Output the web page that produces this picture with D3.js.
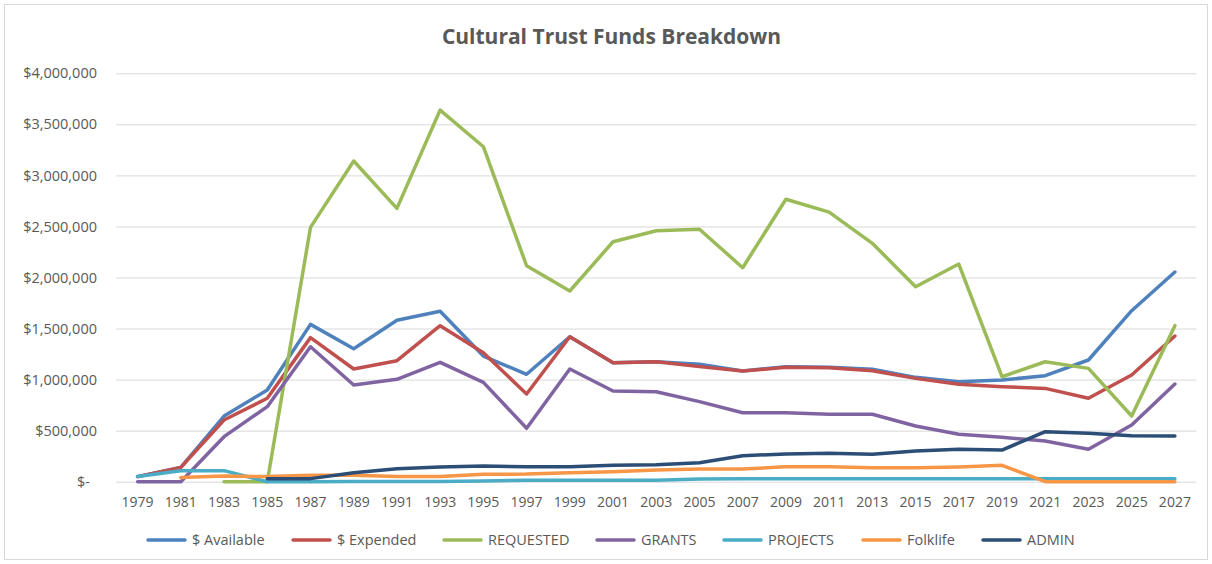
<!DOCTYPE html>
<html><head><meta charset="utf-8">
<script src="https://cdn.jsdelivr.net/npm/d3@7"></script>
<style>
html,body{margin:0;padding:0;background:#fff;}
svg{display:block;font-family:"Open Sans",sans-serif;}
</style></head>
<body><svg id="chart" width="1212" height="564"></svg>
<script>
const years = [1979,1981,1983,1985,1987,1989,1991,1993,1995,1997,1999,2001,2003,2005,2007,2009,2011,2013,2015,2017,2019,2021,2023,2025,2027];
const available = [50000,140000,643000,898000,1541000,1303000,1581000,1669000,1231000,1052000,1420000,1166000,1175000,1150000,1084000,1127000,1120000,1101000,1022000,979000,996000,1038000,1192000,1675000,2054000];
const expended = [50000,140000,604000,817000,1411000,1104000,1185000,1528000,1264000,859000,1420000,1166000,1175000,1127000,1084000,1120000,1115000,1087000,1012000,954000,930000,914000,817000,1045000,1427000];
const requested = [null,null,0,0,2491000,3141000,2677000,3640000,3281000,2115000,1868000,2350000,2458000,2472000,2096000,2766000,2641000,2335000,1910000,2132000,1028000,1175000,1110000,643000,1528000];
const grants = [0,0,441000,735000,1322000,947000,1003000,1169000,973000,523000,1104000,888000,881000,784000,676000,676000,660000,660000,546000,464000,435000,399000,317000,555000,957000];
const projects = [50000,108000,108000,0,0,3000,3000,3000,8000,14000,15000,15000,15000,26000,28000,30000,30000,30000,30000,30000,30000,30000,30000,30000,30000];
const folklife = [null,40000,56000,50000,63000,63000,50000,50000,72000,75000,88000,98000,114000,124000,124000,147000,147000,137000,137000,144000,160000,0,0,0,0];
const admin = [null,null,null,30000,30000,88000,127000,144000,154000,147000,147000,160000,165000,186000,255000,271000,278000,268000,301000,317000,310000,490000,474000,451000,447000];
const yTicks = [0,500000,1000000,1500000,2000000,2500000,3000000,3500000,4000000];
const seriesNames = ["$ Available","$ Expended","REQUESTED","GRANTS","PROJECTS","Folklife","ADMIN"];
const seriesColors = ["#4F81BD","#C0504D","#9BBB59","#8064A2","#4BACC6","#F79646","#2C4D75"];
const seriesData = [available,expended,requested,grants,projects,folklife,admin];

const svg = d3.select("#chart");
const W = 1212, H = 564;
const plot = {left:116, right:1196.5, top:73.3, bottom:481.7};
const textColor = "#595959";

svg.append("rect").attr("x",4.5).attr("y",4.5).attr("width",W-9).attr("height",H-9)
  .attr("fill","#fff").attr("stroke","#D9D9D9").attr("stroke-width",1);

svg.append("text").attr("x",611.5).attr("y",44).attr("text-anchor","middle")
  .attr("fill",textColor).attr("font-weight","bold").attr("font-size","21px")
  .text("Cultural Trust Funds Breakdown");

const x = d3.scaleBand().domain(years).range([plot.left, plot.right]).paddingInner(0).paddingOuter(0);
const y = d3.scaleLinear().domain([0,4000000]).range([plot.bottom, plot.top]);
const fmt = v => v === 0 ? "$-" : "$" + d3.format(",")(v);

// y axis (gridlines + labels)
const yAxis = d3.axisLeft(y).tickValues(yTicks).tickFormat(fmt)
  .tickSize(-(plot.right-plot.left)).tickPadding(19);
const gy = svg.append("g").attr("transform",`translate(${plot.left},0)`).call(yAxis);
gy.select(".domain").remove();
gy.selectAll(".tick line").attr("stroke","#D9D9D9").attr("stroke-width",1);
gy.selectAll(".tick text").attr("fill",textColor).attr("font-size","14.5px")
  .attr("font-family","'Open Sans',sans-serif")
  .attr("dx", d => d === 0 ? -7 : 0);

// x axis labels
const xAxis = d3.axisBottom(x).tickSize(0).tickPadding(15.5);
const gx = svg.append("g").attr("transform",`translate(0,${plot.bottom})`).call(xAxis);
gx.select(".domain").remove();
gx.selectAll(".tick text").attr("fill",textColor).attr("font-size","14px")
  .attr("font-family","'Open Sans',sans-serif");

// lines
const cx = d => x(d) + x.bandwidth()/2;
seriesData.forEach((arr,i) => {
  const line = d3.line()
    .defined(d => d[1] !== null)
    .x(d => cx(d[0])).y(d => y(d[1]));
  svg.append("path").datum(years.map((yr,j)=>[yr,arr[j]]))
    .attr("d",line).attr("fill","none").attr("stroke",seriesColors[i])
    .attr("stroke-width",3.5).attr("stroke-linejoin","round").attr("stroke-linecap","round");
});

// legend
const legendX = [148,293,444,597,724,863,983];
const lg = svg.append("g");
seriesNames.forEach((n,i) => {
  const g = lg.append("g").attr("transform",`translate(${legendX[i]},540)`);
  g.append("line").attr("x1",0).attr("x2",37).attr("y1",0).attr("y2",0)
    .attr("stroke",seriesColors[i]).attr("stroke-width",3.5).attr("stroke-linecap","round");
  g.append("text").attr("x",44).attr("y",5).attr("fill",textColor)
    .attr("font-size","14.5px").text(n);
});
</script></body></html>
